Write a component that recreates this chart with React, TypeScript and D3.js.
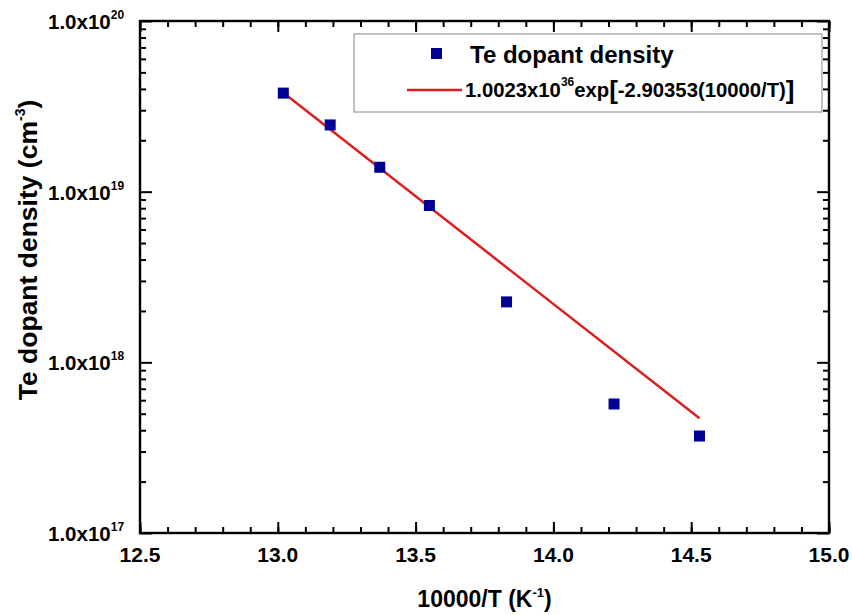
import * as d3 from "d3";
import { useEffect, useRef } from "react";

// 10000/T values (K^-1) and measured Te dopant density (cm^-3)
const invT = [13.02, 13.19, 13.37, 13.55, 13.83, 14.22, 14.53];
const density = [3.78e19, 2.46e19, 1.39e19, 8.3e18, 2.26e18, 5.7e17, 3.7e17];

// fitted line, end points
const fitX = [13.02, 14.53];
const fitY = [3.8e19, 4.7e17];

const xTicks = [12.5, 13.0, 13.5, 14.0, 14.5, 15.0];
const yExps = [17, 18, 19, 20];

const W = 852;
const H = 615;
const m = { left: 140, right: 829, top: 21, bottom: 533 };
const font = "'Liberation Sans', Arial, sans-serif";

export default function App() {
  const axRef = useRef<SVGGElement>(null);

  const x = d3.scaleLinear().domain([12.5, 15]).range([m.left, m.right]);
  const y = d3.scaleLog().domain([1e17, 1e20]).range([m.bottom, m.top]);

  useEffect(() => {
    const g = d3.select(axRef.current);
    g.selectAll("*").remove();
    const minorX = x.ticks(25);
    const majorY = yExps.map((e) => Math.pow(10, e));
    const minorY = y.ticks().filter((v) => !majorY.some((mv) => Math.abs(mv - v) / mv < 1e-6));

    const put = (sel: any) => {
      sel.select(".domain").remove();
      sel.selectAll("text").remove();
      sel.selectAll("line").attr("stroke", "#000").attr("stroke-width", 2);
    };

    // bottom & top
    g.append("g").attr("transform", `translate(0,${m.bottom})`)
      .call(d3.axisBottom(x).tickValues(minorX).tickSize(-6)).call(put);
    g.append("g").attr("transform", `translate(0,${m.bottom})`)
      .call(d3.axisBottom(x).tickValues(xTicks).tickSize(-11)).call(put);
    g.append("g").attr("transform", `translate(0,${m.top})`)
      .call(d3.axisTop(x).tickValues(minorX).tickSize(-6)).call(put);
    g.append("g").attr("transform", `translate(0,${m.top})`)
      .call(d3.axisTop(x).tickValues(xTicks).tickSize(-11)).call(put);
    // left & right
    g.append("g").attr("transform", `translate(${m.left},0)`)
      .call(d3.axisLeft(y).tickValues(minorY).tickSize(-6)).call(put);
    g.append("g").attr("transform", `translate(${m.left},0)`)
      .call(d3.axisLeft(y).tickValues(majorY).tickSize(-12)).call(put);
    g.append("g").attr("transform", `translate(${m.right},0)`)
      .call(d3.axisRight(y).tickValues(minorY).tickSize(-6)).call(put);
    g.append("g").attr("transform", `translate(${m.right},0)`)
      .call(d3.axisRight(y).tickValues(majorY).tickSize(-12)).call(put);
  }, []);

  const line = d3
    .line<number>()
    .x((d, i) => x(fitX[i]))
    .y((d) => y(d));

  return (
    <svg
      width={W}
      height={H}
      style={{ position: "absolute", left: 0, top: 0, background: "#fff" }}
      fontFamily={font}
      fontWeight="bold"
    >
      <rect width={W} height={H} fill="#fff" />

      <g ref={axRef} />

      <rect
        x={m.left}
        y={m.top}
        width={m.right - m.left}
        height={m.bottom - m.top}
        fill="none"
        stroke="#000"
        strokeWidth={2.4}
      />

      {/* tick labels */}
      {xTicks.map((t) => (
        <text key={"xl" + t} x={x(t)} y={562} textAnchor="middle" fontSize={21}>
          {t.toFixed(1)}
        </text>
      ))}
      {yExps.map((e) => (
        <text key={"yl" + e} x={48} y={y(Math.pow(10, e)) + 8} fontSize={20.5}>
          1.0x10
          <tspan fontSize={12} dy={-10}>
            {e}
          </tspan>
        </text>
      ))}

      {/* axis titles */}
      <text x={x(13.75)} y={607} textAnchor="middle" fontSize={23}>
        10000/T (K
        <tspan fontSize={13} dy={-10}>
          -1
        </tspan>
        <tspan dy={10}>)</tspan>
      </text>
      <text
        transform={`translate(37,250) rotate(-90)`}
        textAnchor="middle"
        fontSize={26.5}
      >
        Te dopant density (cm
        <tspan fontSize={14} dy={-12}>
          -3
        </tspan>
        <tspan dy={12}>)</tspan>
      </text>

      {/* fit line */}
      <path d={line(fitY) || ""} fill="none" stroke="#dc1e1e" strokeWidth={2.5} />

      {/* data */}
      {invT.map((v, i) => (
        <rect
          key={"p" + i}
          x={x(v) - 5.5}
          y={y(density[i]) - 5.5}
          width={11}
          height={11}
          fill="#000093"
        />
      ))}

      {/* legend */}
      <rect x={354} y={34} width={468} height={78} fill="#fff" stroke="#999" strokeWidth={1.2} />
      <rect x={431} y={48} width={11} height={11} fill="#000093" />
      <text x={470} y={63} fontSize={24}>
        Te dopant density
      </text>
      <line x1={407} x2={462} y1={90} y2={90} stroke="#dc1e1e" strokeWidth={2.5} />
      <text x={465} y={97} fontSize={20.3}>
        1.0023x10
        <tspan fontSize={12} dy={-11}>
          36
        </tspan>
        <tspan dy={11}>exp</tspan>
        <tspan fontSize={26} dy={2}>[</tspan>
        <tspan dy={-2}>-2.90353(10000/T)</tspan>
        <tspan fontSize={26} dy={2}>]</tspan>
      </text>
    </svg>
  );
}
